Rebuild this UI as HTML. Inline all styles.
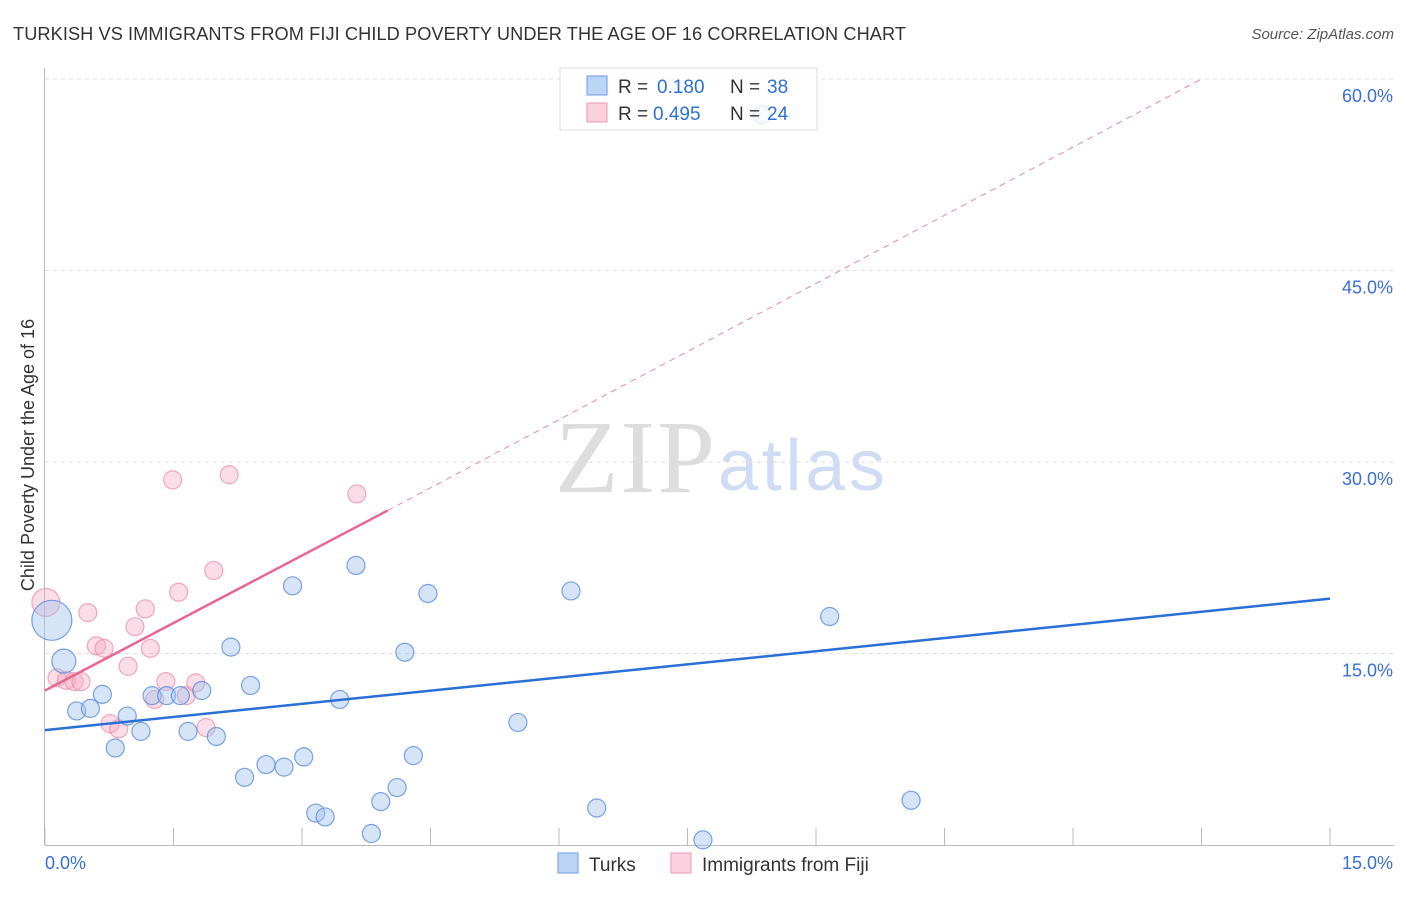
<!DOCTYPE html>
<html><head><meta charset="utf-8"><style>
body{margin:0;background:#fff;font-family:"Liberation Sans",sans-serif;}
svg text{font-family:"Liberation Sans",sans-serif;}
</style></head><body>
<svg id="c" width="1406" height="892">
<text x="13" y="40" font-size="18.2" fill="#333" textLength="893">TURKISH VS IMMIGRANTS FROM FIJI CHILD POVERTY UNDER THE AGE OF 16 CORRELATION CHART</text>
<text x="1394" y="39" font-size="15" fill="#555" font-style="italic" text-anchor="end">Source: ZipAtlas.com</text>
<text x="555" y="492" font-size="104" fill="#ddd" textLength="160" style="font-family:'Liberation Serif',serif">ZIP</text>
<text x="718" y="490" font-size="72" fill="#cfdcf3" textLength="167">atlas</text>
<text transform="translate(34,455) rotate(-90)" font-size="18" fill="#333" text-anchor="middle">Child Poverty Under the Age of 16</text>
<g id="grid"></g><g id="marks"></g>
<g>
<rect x="560" y="68" width="257" height="62" fill="rgba(255,255,255,0.8)" stroke="#ddd"/>
<rect x="587" y="76" width="20" height="19" fill="#bcd4f5" stroke="#6d9ee6"/>
<rect x="587" y="103" width="20" height="19" fill="#fbcfdc" stroke="#ee9ab5"/>
<text x="618" y="93" font-size="19" fill="#333">R =</text><text x="657" y="93" font-size="19" fill="#2f6fd8">0.180</text>
<text x="730" y="93" font-size="19" fill="#333">N =</text><text x="767" y="93" font-size="19" fill="#2f6fd8">38</text>
<text x="618" y="120" font-size="19" fill="#333">R =</text><text x="653" y="120" font-size="19" fill="#2f6fd8">0.495</text>
<text x="730" y="120" font-size="19" fill="#333">N =</text><text x="767" y="120" font-size="19" fill="#2f6fd8">24</text>
</g>
<g>
<rect x="558" y="853" width="20" height="20" fill="#bcd4f5" stroke="#6d9ee6"/>
<text x="589" y="871" font-size="19" fill="#333">Turks</text>
<rect x="671" y="853" width="20" height="20" fill="#fbcfdc" stroke="#ee9ab5"/>
<text x="702" y="871" font-size="19" fill="#333">Immigrants from Fiji</text>
</g>
</svg>
<script>
const yTicks=[15,30,45,60];
const xTickLabels=["0.0%","15.0%"];
const turksX=[0.08,0.22,0.37,0.53,0.67,0.82,0.96,1.12,1.25,1.42,1.58,1.67,1.83,2.00,2.17,2.33,2.40,2.58,2.79,2.89,3.02,3.16,3.27,3.44,3.63,3.81,3.92,4.11,4.20,4.30,4.47,5.52,6.14,6.44,7.68,8.37,9.16,10.11];
const turksY=[17.6,14.4,10.5,10.7,11.8,7.6,10.1,8.9,11.7,11.7,11.7,8.9,12.1,8.5,15.5,5.3,12.5,6.3,6.1,20.3,6.9,2.5,2.2,11.4,21.9,0.9,3.4,4.5,15.1,7.0,19.7,9.6,19.9,2.9,0.4,57.2,17.9,3.5];
const fijiX=[0.01,0.14,0.25,0.34,0.42,0.50,0.60,0.69,0.76,0.86,0.97,1.05,1.17,1.23,1.28,1.41,1.49,1.56,1.65,1.76,1.88,1.97,2.15,3.64];
const fijiY=[19.0,13.1,12.9,12.8,12.8,18.2,15.6,15.4,9.5,9.1,14.0,17.1,18.5,15.4,11.4,12.8,28.6,19.8,11.7,12.7,9.2,21.5,29.0,27.5];
const turksTrend=[[0,9.0],[15,19.3]];
const fijiTrend=[[0,12.1],[4.0,26.2]];
const fijiTrendExt=[[4.0,26.2],[13.5,60]];
const NS="http://www.w3.org/2000/svg";
const X=v=>45+v/15*1285, Y=v=>845-v/15*191.5;
function mk(t,a,p){const e=document.createElementNS(NS,t);for(const k in a)e.setAttribute(k,a[k]);p.appendChild(e);return e;}
const g=document.getElementById('grid'), m=document.getElementById('marks');
yTicks.forEach(t=>{
 const l=mk('line',{x1:45,x2:1394,y1:Y(t),y2:Y(t),stroke:'#ddd','stroke-dasharray':'4,4'},g);
 
 
 const tx=mk('text',{x:1393,y:Y(t)+23,'font-size':18,fill:'#3a6fd8','text-anchor':'end'},g);
 tx.textContent=t.toFixed(1)+'%';
 
 
});
const ax=mk('line',{x1:44.5,x2:44.5,y1:68,y2:845,stroke:'#bbb'},g);


const bx=mk('line',{x1:45,x2:1394,y1:845.5,y2:845.5,stroke:'#bbb'},g);


for(let i=0;i<=10;i++){const v=i*1.5;const t=mk('line',{x1:X(v),x2:X(v),y1:828,y2:845,stroke:'#bbb'},g);
 
 }
[[0,45,'start'],[15,1393,'end']].forEach((d,i)=>{const t=mk('text',{x:d[1],y:869,'font-size':18,fill:'#3a6fd8','text-anchor':d[2]},g);t.textContent=xTickLabels[i];
 
 });
function line(p,attrs,name){const l=mk('line',Object.assign({x1:X(p[0][0]),y1:Y(p[0][1]),x2:X(p[1][0]),y2:Y(p[1][1])},attrs),m);
 
 }
fijiX.forEach((x,i)=>{const r=i==0?14:9;const c=mk('circle',{cx:X(x),cy:Y(fijiY[i]),r:r,fill:'rgba(246,170,195,0.4)',stroke:'rgba(236,140,170,0.75)','stroke-width':1.2},m);
 
 });
turksX.forEach((x,i)=>{const r=i==0?20:(i==1?12:9);const c=mk('circle',{cx:X(x),cy:Y(turksY[i]),r:r,fill:'rgba(165,196,240,0.45)',stroke:'rgba(90,140,220,0.8)','stroke-width':1.2},m);
 
 });
line(fijiTrendExt,{stroke:'#ea8aa8','stroke-width':1,'stroke-dasharray':'6,5'},'fiji-trend-extension');
line(fijiTrend,{stroke:'#e8668f','stroke-width':2.5},'fiji-trend-line');
line(turksTrend,{stroke:'#2a6fd6','stroke-width':2.5},'turks-trend-line');
</script>
</body></html>
